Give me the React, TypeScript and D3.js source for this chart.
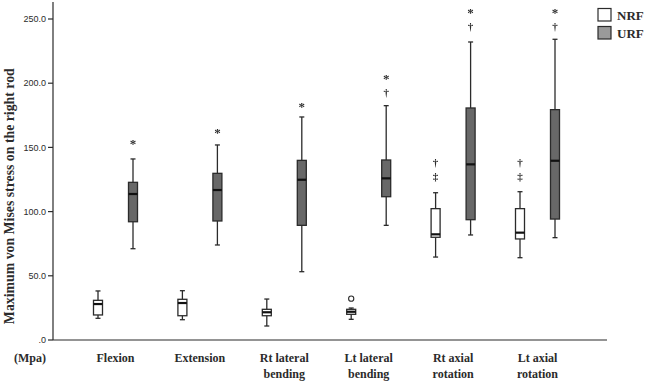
import React from "react";
import * as d3 from "d3";

// five-number summaries per motion: [min, q1, median, q3, max] (MPa)
const categories = [
  ["Flexion"],
  ["Extension"],
  ["Rt lateral", "bending"],
  ["Lt lateral", "bending"],
  ["Rt axial", "rotation"],
  ["Lt axial", "rotation"],
];
const nrfStats = [
  [16.9, 19.5, 28.0, 30.9, 38.2],
  [15.8, 18.9, 28.8, 31.7, 38.4],
  [10.9, 18.9, 21.6, 23.9, 31.9],
  [16.1, 20.0, 22.0, 23.9, 24.9],
  [64.6, 80.0, 82.3, 102.3, 114.7],
  [64.1, 78.7, 83.6, 102.3, 115.5],
];
const urfStats = [
  [71.1, 92.1, 113.7, 122.8, 141.0],
  [74.0, 92.7, 116.8, 129.8, 151.9],
  [53.2, 89.3, 124.8, 139.9, 173.7],
  [89.3, 111.6, 125.9, 140.2, 182.5],
  [81.8, 93.7, 136.8, 180.7, 232.1],
  [79.7, 94.2, 139.6, 179.4, 234.2],
];
// outliers (category index, value)
const nrfOutliers = [[3, 32.2]];
// significance symbols: [category index, symbol, value]
const nrfMarks = [
  [4, "†", 138.6],
  [4, "‡", 127.7],
  [5, "†", 138.6],
  [5, "‡", 127.7],
];
const urfMarks = [
  [0, "*", 154.2],
  [1, "*", 162.5],
  [2, "*", 183.0],
  [3, "*", 204.3],
  [3, "†", 192.6],
  [4, "*", 255.5],
  [4, "†", 244.0],
  [5, "*", 255.5],
  [5, "†", 244.0],
];
const yTicks = [0, 50, 100, 150, 200, 250];
const groups = ["NRF", "URF"];

const width = 646;
const height = 382;
const margin = { top: 2, right: 39, bottom: 42, left: 53 };
const serif = "'Liberation Serif', 'Times New Roman', serif";
const sans = "'Liberation Sans', Arial, sans-serif";
const ink = "#2b2b2b";

export default function App() {
  const y = d3.scaleLinear().domain([0, 250]).range([340, 19]);
  const x = d3
    .scalePoint()
    .domain(categories.map((_, i) => String(i)))
    .range([margin.left + 62.5, width - margin.right - 69.5]);
  const offset = d3.scaleOrdinal<string, number>().domain(groups).range([-17.5, 17.5]);
  const fill = d3.scaleOrdinal<string, string>().domain(groups).range(["#ffffff", "#686868"]);
  const legendFill = d3.scaleOrdinal<string, string>().domain(groups).range(["#ffffff", "#9a9a9a"]);
  const boxW = 9;
  const capW = 5;

  const box = (s: number[], i: number, g: string) => {
    const cx = (x(String(i)) as number) + offset(g);
    const [mn, q1, md, q3, mx] = s;
    return (
      <g key={g + i} stroke={ink} strokeWidth={1.3}>
        <line x1={cx} x2={cx} y1={y(mx)} y2={y(q3)} />
        <line x1={cx} x2={cx} y1={y(q1)} y2={y(mn)} />
        <line x1={cx - capW / 2} x2={cx + capW / 2} y1={y(mx)} y2={y(mx)} />
        <line x1={cx - capW / 2} x2={cx + capW / 2} y1={y(mn)} y2={y(mn)} />
        <rect x={cx - boxW / 2} y={y(q3)} width={boxW} height={y(q1) - y(q3)} fill={fill(g)} />
        <line x1={cx - boxW / 2} x2={cx + boxW / 2} y1={y(md)} y2={y(md)} strokeWidth={2.2} stroke="#111" />
      </g>
    );
  };

  // baseline shift so the glyph centre lands on the value
  const glyphShift: Record<string, number> = { "*": 5.5, "†": 3.5, "‡": 3.5 };
  const mark = (m: (string | number)[], g: string, k: number) => {
    const [i, sym, v] = m as [number, string, number];
    const cx = (x(String(i)) as number) + offset(g);
    return (
      <text
        key={g + "m" + k}
        x={cx}
        y={y(v) + glyphShift[sym]}
        textAnchor="middle"
        fontFamily={serif}
        fontWeight="bold"
        fontSize={sym === "*" ? 13 : 11}
        fill={ink}
      >
        {sym}
      </text>
    );
  };

  return (
    <svg
      width={width}
      height={height}
      style={{ position: "absolute", left: 0, top: 0, background: "#fff" }}
    >
      {/* axes */}
      <g stroke={ink} strokeWidth={1.2}>
        <line x1={margin.left} x2={margin.left} y1={margin.top} y2={y(0)} />
        <line x1={margin.left} x2={width - margin.right} y1={y(0)} y2={y(0)} />
        {yTicks.map((t) => (
          <line key={t} x1={margin.left - 5} x2={margin.left} y1={y(t)} y2={y(t)} />
        ))}
      </g>
      {yTicks.map((t) => (
        <text
          key={"l" + t}
          x={margin.left - 7}
          y={y(t)}
          dy="0.35em"
          textAnchor="end"
          fontFamily={sans}
          fontSize={9}
          fill={ink}
        >
          {t === 0 ? ".0" : t.toFixed(1)}
        </text>
      ))}
      <text
        transform={`translate(13.5, ${y(112)}) rotate(-90)`}
        textAnchor="middle"
        fontFamily={serif}
        fontWeight="bold"
        fontSize={13.8}
        fill={ink}
      >
        Maximum von Mises stress on the right rod
      </text>
      <text x={14} y={362} fontFamily={serif} fontWeight="bold" fontSize={12} fill={ink}>
        (Mpa)
      </text>
      {categories.map((lines, i) => (
        <text
          key={"c" + i}
          x={x(String(i))}
          y={362}
          textAnchor="middle"
          fontFamily={serif}
          fontWeight="bold"
          fontSize={12}
          fill={ink}
        >
          {lines.map((l, j) => (
            <tspan key={j} x={x(String(i))} dy={j === 0 ? 0 : 16}>
              {l}
            </tspan>
          ))}
        </text>
      ))}

      {/* boxes */}
      {nrfStats.map((s, i) => box(s, i, "NRF"))}
      {urfStats.map((s, i) => box(s, i, "URF"))}
      {nrfOutliers.map(([i, v], k) => (
        <circle
          key={"o" + k}
          cx={(x(String(i)) as number) + offset("NRF")}
          cy={y(v)}
          r={2.6}
          fill="none"
          stroke={ink}
          strokeWidth={1.1}
        />
      ))}
      {/* symbols drawn in their own layer so they render in plain grey */}
      <g opacity={0.99} style={{ willChange: "transform" }}>
        {nrfMarks.map((m, k) => mark(m, "NRF", k))}
        {urfMarks.map((m, k) => mark(m, "URF", k))}
      </g>

      {/* legend */}
      {groups.map((g, k) => (
        <g key={"lg" + g}>
          <rect
            x={598}
            y={8.5 + k * 18}
            width={13}
            height={12.5}
            fill={legendFill(g)}
            stroke={ink}
            strokeWidth={1.2}
          />
          <text x={617} y={19.5 + k * 18} fontFamily={serif} fontWeight="bold" fontSize={13} fill={ink}>
            {g}
          </text>
        </g>
      ))}
    </svg>
  );
}
